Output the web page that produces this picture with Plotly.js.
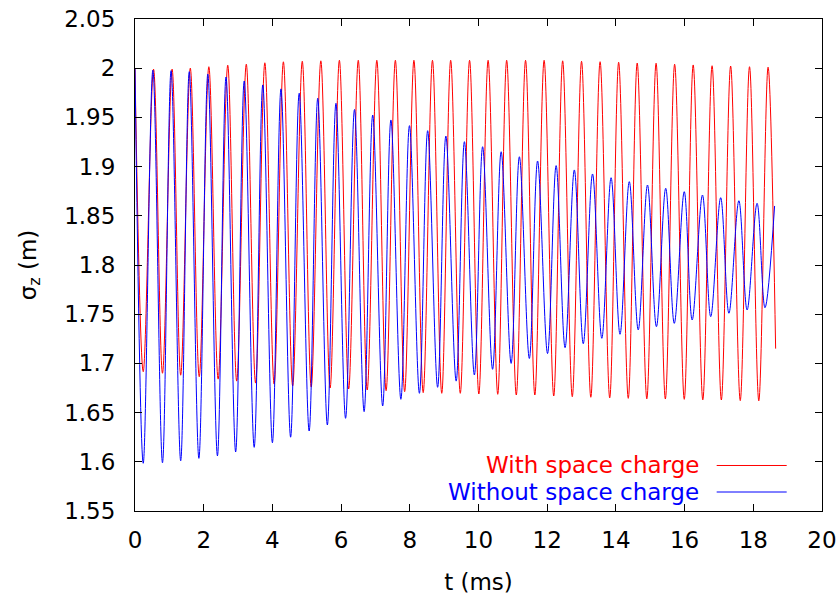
<!DOCTYPE html>
<html>
<head>
<meta charset="utf-8">
<script src="https://cdn.plot.ly/plotly-3.0.1.min.js"></script>
<style>html,body{margin:0;padding:0;background:#fff;}#chart{width:836px;height:597px;}</style>
</head>
<body>
<div id="chart"></div>
<script>
// Series names (legend labels)
var seriesNames = ['With space charge', 'Without space charge'];
var seriesColors = ['#ff0000', '#0000ff'];

// "With space charge": successive extrema (peak, trough, peak, ...), t in ms
var redT = [0, 0.24, 0.54, 0.80, 1.08, 1.33, 1.61, 1.87, 2.15, 2.42, 2.70, 2.96, 3.24, 3.51, 3.78, 4.05,
  4.32, 4.59, 4.87, 5.13, 5.41, 5.68, 5.95, 6.22, 6.50, 6.76, 7.04, 7.31, 7.58, 7.85, 8.12, 8.39,
  8.66, 8.93, 9.19, 9.47, 9.74, 10.01, 10.28, 10.56, 10.82, 11.10, 11.37, 11.64, 11.91, 12.19,
  12.45, 12.73, 13.00, 13.27, 13.54, 13.82, 14.08, 14.36, 14.62, 14.90, 15.17, 15.44, 15.71, 15.99,
  16.25, 16.53, 16.80, 17.07, 17.34, 17.62, 17.89, 18.16, 18.43, 18.65];
var redV = [2.000, 1.6916, 1.999, 1.690, 1.999, 1.688, 2.000, 1.6865, 2.0015, 1.684, 2.003, 1.682,
  2.004, 1.680, 2.0055, 1.679, 2.0065, 1.677, 2.007, 1.676, 2.0075, 1.675, 2.008, 1.674, 2.008, 1.673,
  2.008, 1.6723, 2.008, 1.6713, 2.008, 1.6703, 2.008, 1.6696, 2.008, 1.6696, 2.008, 1.6689,
  2.008, 1.6686, 2.008, 1.6679, 2.008, 1.6679, 2.008, 1.6669, 2.0075, 1.6662, 2.007, 1.6656,
  2.0066, 1.665, 2.006, 1.6645, 2.0052, 1.664, 2.005, 1.6638, 2.004, 1.6635, 2.0033, 1.663,
  2.0025, 1.6628, 2.0022, 1.6622, 2.0015, 1.662, 2.001, 1.715];

// "Without space charge": successive extrema (peak, trough, ...), t in ms
var blueT = [0, 0.24, 0.52, 0.80, 1.05, 1.33, 1.58, 1.86, 2.12, 2.40, 2.65, 2.93, 3.18, 3.47, 3.72, 4.00,
  4.25, 4.53, 4.78, 5.07, 5.32, 5.60, 5.85, 6.13, 6.39, 6.67, 6.92, 7.21, 7.45, 7.74, 7.99, 8.28,
  8.52, 8.81, 9.05, 9.35, 9.59, 9.88, 10.12, 10.41, 10.66, 10.95, 11.19, 11.48, 11.72, 12.01,
  12.26, 12.52, 12.79, 13.05, 13.32, 13.59, 13.86, 14.12, 14.39, 14.65, 14.92, 15.18, 15.45, 15.70,
  15.99, 16.22, 16.52, 16.76, 17.05, 17.29, 17.58, 17.82, 18.11, 18.34, 18.62];
var blueV = [2.000, 1.5985, 1.998, 1.599, 1.9975, 1.601, 1.9965, 1.6035, 1.994, 1.606, 1.991, 1.610,
  1.987, 1.6147, 1.983, 1.6194, 1.979, 1.625, 1.9745, 1.6313, 1.9694, 1.6374, 1.9643, 1.6442,
  1.958, 1.651, 1.9524, 1.6567, 1.9474, 1.6635, 1.9416, 1.6696, 1.9365, 1.6757, 1.9311, 1.682,
  1.9253, 1.6882, 1.9202, 1.694, 1.9151, 1.700, 1.910, 1.705, 1.9057, 1.710, 1.901, 1.716,
  1.8966, 1.720, 1.8925, 1.7255, 1.8887, 1.7296, 1.8847, 1.734, 1.8813, 1.7373, 1.878, 1.7407,
  1.8745, 1.7441, 1.8711, 1.7475, 1.8684, 1.751, 1.8653, 1.7543, 1.8627, 1.7566, 1.860];

// Axis ticks
var xTicks = [0, 2, 4, 6, 8, 10, 12, 14, 16, 18, 20];
var yTicks = [1.55, 1.6, 1.65, 1.7, 1.75, 1.8, 1.85, 1.9, 1.95, 2, 2.05];

var FONT = 'DejaVu Sans, Liberation Sans, Arial, sans-serif';

var traces = [
  {x: redT, y: redV, name: seriesNames[0], type: 'scatter', mode: 'lines',
   line: {color: seriesColors[0], width: 1, shape: 'spline', smoothing: 1}},
  {x: blueT, y: blueV, name: seriesNames[1], type: 'scatter', mode: 'lines',
   line: {color: seriesColors[1], width: 1, shape: 'spline', smoothing: 1}}
];

function axisBase() {
  return {
    showgrid: false, zeroline: false, showline: true, linecolor: '#000', linewidth: 1,
    ticks: 'inside', ticklen: 7, tickcolor: '#000', tickwidth: 1, mirror: 'ticks',
    ticklabeloverflow: 'allow',
    tickfont: {family: FONT, size: 23, color: '#000'}
  };
}

var xaxis = axisBase();
xaxis.range = [0, 20];
xaxis.tickvals = xTicks;
xaxis.ticktext = xTicks.map(String);
xaxis.ticklabelstandoff = 8;
xaxis.title = {text: 't (ms)', font: {family: FONT, size: 23, color: '#000'}, standoff: 22};

var yaxis = axisBase();
yaxis.range = [1.55, 2.05];
yaxis.tickvals = yTicks;
yaxis.ticktext = yTicks.map(String);
yaxis.ticklabelstandoff = 14;
yaxis.title = {text: 'σ<sub>z</sub> (m)', font: {family: FONT, size: 23, color: '#000'}, standoff: 21};

// legend placed like the reference (text left, line sample right)
var legY = [0.0925, 0.0386];
var annotations = seriesNames.map(function (n, i) {
  return {xref: 'paper', yref: 'paper', x: 0.824, y: legY[i], xanchor: 'right', yanchor: 'middle',
    text: n, showarrow: false, font: {family: FONT, size: 23, color: seriesColors[i]}};
});
var shapes = seriesNames.map(function (n, i) {
  return {type: 'line', xref: 'paper', yref: 'paper', x0: 0.8467, x1: 0.9486, y0: legY[i], y1: legY[i],
    line: {color: seriesColors[i], width: 1}};
});

var layout = {
  width: 836, height: 597,
  margin: {l: 135, r: 14, t: 19, b: 86},
  paper_bgcolor: '#fff', plot_bgcolor: '#fff',
  font: {family: FONT, size: 23, color: '#000'},
  showlegend: false,
  xaxis: xaxis, yaxis: yaxis,
  annotations: annotations, shapes: shapes
};

Plotly.newPlot('chart', traces, layout, {staticPlot: true, displayModeBar: false});
</script>
</body>
</html>
